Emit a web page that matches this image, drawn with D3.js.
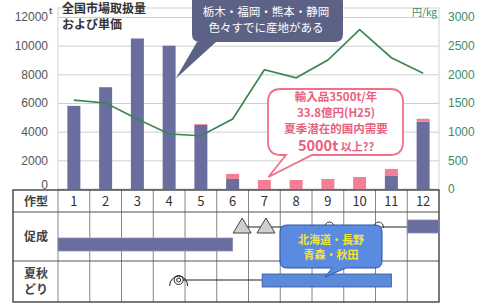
<!DOCTYPE html>
<html>
<head>
<meta charset="utf-8">
<script src="https://cdn.jsdelivr.net/npm/d3@7"></script>
<style>
  body { margin: 0; background: #fff; }
  text { font-family: "Noto Sans CJK JP", "Noto Sans", sans-serif; }
</style>
</head>
<body>
<div id="chart"></div>
<script>
// data
const months = ["1", "2", "3", "4", "5", "6", "7", "8", "9", "10", "11", "12"]
const domestic = [5800, 7100, 10500, 10000, 4480, 700, 0, 0, 0, 0, 950, 4700]
const imports = [0, 0, 0, 0, 60, 350, 630, 630, 700, 840, 450, 200]
const price = [1550, 1500, 1220, 960, 930, 1220, 2080, 1940, 2250, 2780, 2290, 2020]
const leftTicks = [0, 2000, 4000, 6000, 8000, 10000, 12000]
const rightTicks = [0, 500, 1000, 1500, 2000, 2500, 3000]

const width = 482
const height = 306
const plot = { left: 58, right: 439, top: 17, bottom: 189 }

const svg = d3.select('#chart')
    .append('svg')
    .attr('width', width)
    .attr('height', height)

// scales
const xCol = d3.scaleBand().domain(months).range([plot.left, plot.right])
const y = d3.scaleLinear().domain([0, 12000]).range([plot.bottom, plot.top])
const y2 = d3.scaleLinear().domain([0, 3000]).range([plot.bottom, plot.top])
const bw = 13
const mid = m => xCol(m) + xCol.bandwidth() / 2
// position inside a month column, f = 0..1
const at = (m, f) => xCol(m) + xCol.bandwidth() * f

// frame of plot
svg.append('rect')
    .attr('x', plot.left).attr('y', 8)
    .attr('width', plot.right - plot.left).attr('height', plot.bottom - 8)
    .attr('fill', 'none').attr('stroke', '#d4d4d4')

// gridlines
const grid = svg.append('g')
    .attr('transform', 'translate(' + plot.left + ',0)')
    .call(d3.axisLeft(y).tickValues(leftTicks).tickSize(-(plot.right - plot.left)).tickFormat(''))
grid.select('.domain').remove()
grid.selectAll('line').attr('stroke', '#cfcfcf')

// left axis
const yAxis = svg.append('g')
    .attr('transform', 'translate(48,0)')
    .call(d3.axisLeft(y).tickValues(leftTicks).tickSize(0).tickPadding(0).tickFormat(d3.format('d')))
yAxis.select('.domain').remove()
yAxis.selectAll('text')
    .attr('fill', '#555').style('font-size', '12px')
    .style('font-family', '"Liberation Sans", Arial, sans-serif')
yAxis.selectAll('.tick').filter(d => d === 0).select('text').attr('y', -4)
svg.append('text').attr('x', 49).attr('y', y(12000) - 3)
    .attr('fill', '#555').style('font-size', '8px').style('font-weight', 'bold').text('t')

// right axis
const y2Axis = svg.append('g')
    .attr('transform', 'translate(' + (plot.right + 1) + ',0)')
    .call(d3.axisRight(y2).tickValues(rightTicks).tickSize(0).tickPadding(8).tickFormat(d3.format('d')))
y2Axis.select('.domain').remove()
y2Axis.selectAll('text')
    .attr('fill', '#3f8a6c').style('font-size', '12px')
    .style('font-family', '"Liberation Sans", Arial, sans-serif')
svg.append('text').attr('x', 437).attr('y', 16).attr('text-anchor', 'end')
    .attr('fill', '#3f8a6c').style('font-size', '10px').text('円/kg')

// title
svg.append('text').attr('x', 62).attr('y', 13)
    .attr('fill', '#333').style('font-size', '12px').style('font-weight', 'bold').text('全国市場取扱量')
svg.append('text').attr('x', 62).attr('y', 29)
    .attr('fill', '#333').style('font-size', '12px').style('font-weight', 'bold').text('および単価')

// bars
svg.selectAll('rect.dom')
    .data(months)
    .enter()
    .append('rect')
    .attr('class', 'dom')
    .attr('x', m => mid(m) - bw / 2)
    .attr('width', bw)
    .attr('y', (m, i) => y(domestic[i]))
    .attr('height', (m, i) => y(0) - y(domestic[i]))
    .attr('fill', '#6a6e9f')

svg.selectAll('rect.imp')
    .data(months)
    .enter()
    .append('rect')
    .attr('class', 'imp')
    .attr('x', m => mid(m) - bw / 2)
    .attr('width', bw)
    .attr('y', (m, i) => y(domestic[i] + imports[i]))
    .attr('height', (m, i) => y(domestic[i]) - y(domestic[i] + imports[i]))
    .attr('fill', '#f27f94')

// price line
const line = d3.line()
    .x((d, i) => mid(months[i]))
    .y(d => y2(d))
svg.append('path')
    .datum(price)
    .attr('d', line)
    .attr('fill', 'none')
    .attr('stroke', '#3a8550')
    .attr('stroke-width', 1.6)

// speech bubble path: rounded rect with tail on bottom edge
const bubble = (x0, y0, w, h, r, b1, b2, tx, ty) => {
    const x1 = x0 + w, y1 = y0 + h
    return 'M' + (x0 + r) + ',' + y0 +
        'H' + (x1 - r) + 'Q' + x1 + ',' + y0 + ' ' + x1 + ',' + (y0 + r) +
        'V' + (y1 - r) + 'Q' + x1 + ',' + y1 + ' ' + (x1 - r) + ',' + y1 +
        'H' + b2 + 'L' + tx + ',' + ty + 'L' + b1 + ',' + y1 +
        'H' + (x0 + r) + 'Q' + x0 + ',' + y1 + ' ' + x0 + ',' + (y1 - r) +
        'V' + (y0 + r) + 'Q' + x0 + ',' + y0 + ' ' + (x0 + r) + ',' + y0 + 'Z'
}

// bubble 1
svg.append('path')
    .attr('d', bubble(192, -6, 151, 48, 8, 197, 216, xCol('4') + xCol.bandwidth() / 2 + bw / 2, y(7700)))
    .attr('fill', '#5c6286')
svg.append('text').attr('x', 266).attr('y', 16).attr('text-anchor', 'middle')
    .attr('fill', '#fff').style('font-size', '11.5px').text('栃木・福岡・熊本・静岡')
svg.append('text').attr('x', 266).attr('y', 32).attr('text-anchor', 'middle')
    .attr('fill', '#fff').style('font-size', '11.5px').text('色々すでに産地がある')

// bubble 2
svg.append('path')
    .attr('d', bubble(268, 89, 135, 66, 13, 286, 312, mid('7') + 4, y(imports[6]) - 3))
    .attr('fill', '#fff').attr('stroke', '#ef7089').attr('stroke-width', 1.8)
const pink = '#e9607e'
svg.append('text').attr('x', 336).attr('y', 101).attr('text-anchor', 'middle')
    .attr('fill', pink).style('font-size', '11.5px').style('font-weight', 'bold').text('輸入品3500t/年')
svg.append('text').attr('x', 336).attr('y', 117).attr('text-anchor', 'middle')
    .attr('fill', pink).style('font-size', '11.5px').style('font-weight', 'bold').text('33.8億円(H25)')
svg.append('text').attr('x', 336).attr('y', 133).attr('text-anchor', 'middle')
    .attr('fill', pink).style('font-size', '11.5px').style('font-weight', 'bold').text('夏季潜在的国内需要')
const t4 = svg.append('text').attr('x', 336).attr('y', 151).attr('text-anchor', 'middle')
    .attr('fill', pink).style('font-weight', 'bold')
t4.append('tspan').style('font-size', '14.5px').text('5000t')
t4.append('tspan').style('font-size', '11px').text(' 以上??')

// table
const tTop = 190, r1 = 212, r2 = 261, tBot = 302, tLeft = 13
const table = svg.append('g')
table.append('rect').attr('x', tLeft).attr('y', tTop).attr('width', plot.right - tLeft).attr('height', tBot - tTop)
    .attr('fill', '#fff')
months.forEach(m => {
    table.append('line').attr('x1', xCol(m)).attr('x2', xCol(m)).attr('y1', tTop).attr('y2', tBot)
        .attr('stroke', '#777').attr('stroke-width', 0.9)
    table.append('text').attr('x', mid(m)).attr('y', 206).attr('text-anchor', 'middle')
        .attr('fill', '#333').style('font-size', '13px').text(m)
})
;[r1, r2].forEach(yy => {
    table.append('line').attr('x1', tLeft).attr('x2', plot.right).attr('y1', yy).attr('y2', yy)
        .attr('stroke', '#555').attr('stroke-width', 1)
})
table.append('rect').attr('x', tLeft).attr('y', tTop).attr('width', plot.right - tLeft).attr('height', tBot - tTop)
    .attr('fill', 'none').attr('stroke', '#333').attr('stroke-width', 1.3)
table.append('text').attr('x', 36).attr('y', 206).attr('text-anchor', 'middle')
    .attr('fill', '#444').style('font-size', '12px').style('font-weight', 'bold').text('作型')
table.append('text').attr('x', 36).attr('y', 241).attr('text-anchor', 'middle')
    .attr('fill', '#444').style('font-size', '12px').style('font-weight', 'bold').text('促成')
table.append('text').attr('x', 36).attr('y', 278).attr('text-anchor', 'middle')
    .attr('fill', '#444').style('font-size', '12px').style('font-weight', 'bold').text('夏秋')
table.append('text').attr('x', 36).attr('y', 294).attr('text-anchor', 'middle')
    .attr('fill', '#444').style('font-size', '12px').style('font-weight', 'bold').text('どり')

// 促成 row
table.append('rect').attr('x', xCol('1')).attr('y', 238).attr('width', mid('6') - xCol('1')).attr('height', 13)
    .attr('fill', '#6a6e9f').attr('stroke', '#8a8db5').attr('stroke-width', 0.8)
table.append('line').attr('x1', at('6', 0.8)).attr('x2', xCol('12')).attr('y1', 227).attr('y2', 227)
    .attr('stroke', '#222').attr('stroke-width', 1)
;[at('6', 0.8), at('7', 0.55)].forEach(cx => {
    table.append('path').attr('d', 'M' + (cx - 9) + ',233L' + cx + ',218L' + (cx + 9) + ',233Z')
        .attr('fill', '#cfcfcf').attr('stroke', '#444').attr('stroke-width', 1)
})
;[at('9', 0.55), at('11', 0.1)].forEach(cx => {
    table.append('path').attr('d', 'M' + (cx - 5) + ',228A5,6 0 0 1 ' + (cx + 5) + ',228')
        .attr('fill', 'none').attr('stroke', '#333').attr('stroke-width', 1)
})
table.append('rect').attr('x', xCol('12')).attr('y', 220).attr('width', xCol.bandwidth()).attr('height', 13)
    .attr('fill', '#6a6e9f').attr('stroke', '#8a8db5').attr('stroke-width', 0.8)

// 夏秋どり row
const sx = at('4', 0.8)
table.append('line').attr('x1', sx).attr('x2', at('7', 0.43)).attr('y1', 280).attr('y2', 280)
    .attr('stroke', '#222').attr('stroke-width', 1)
table.append('circle').attr('cx', sx).attr('cy', 280).attr('r', 4.5)
    .attr('fill', '#fff').attr('stroke', '#222').attr('stroke-width', 1)
table.append('circle').attr('cx', sx).attr('cy', 280).attr('r', 2)
    .attr('fill', 'none').attr('stroke', '#222').attr('stroke-width', 1)
table.append('path').attr('d', 'M' + (sx - 9) + ',286A9,10 0 0 1 ' + (sx + 9) + ',286')
    .attr('fill', 'none').attr('stroke', '#222').attr('stroke-width', 1)
table.append('rect').attr('x', at('7', 0.43)).attr('y', 274).attr('width', at('11', 0.5) - at('7', 0.43)).attr('height', 13)
    .attr('fill', '#5b8ad8').attr('stroke', '#2f56a8').attr('stroke-width', 0.8)

// bubble 3
svg.append('path')
    .attr('d', bubble(280, 225, 102, 43, 7, 332, 346, 325, 277))
    .attr('fill', '#5b8be0').attr('stroke', '#2d55a8').attr('stroke-width', 1)
svg.append('text').attr('x', 331).attr('y', 244).attr('text-anchor', 'middle')
    .attr('fill', '#f3e53a').style('font-size', '11px').style('font-weight', 'bold').text('北海道・長野')
svg.append('text').attr('x', 331).attr('y', 259).attr('text-anchor', 'middle')
    .attr('fill', '#f3e53a').style('font-size', '11px').style('font-weight', 'bold').text('青森・秋田')
</script>
</body>
</html>
